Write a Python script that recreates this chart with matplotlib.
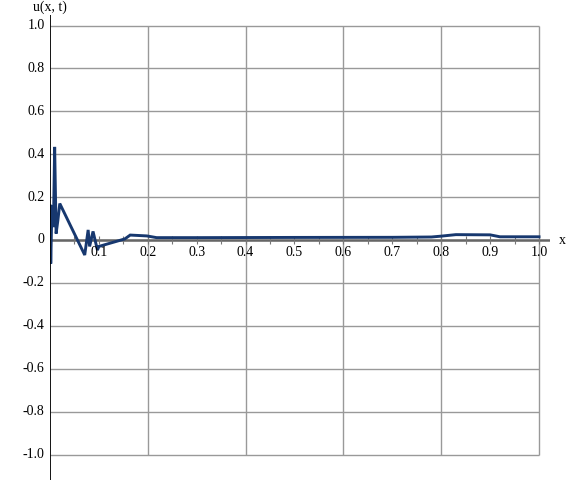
"""
Solution profile u(x, t) on [0, 1].
"""
import matplotlib.pyplot as plt
import numpy as np

x_vals = [0.0, 0.0015, 0.004, 0.007, 0.0095, 0.0125, 0.016, 0.02, 0.071, 0.078,
          0.081, 0.088, 0.097, 0.10, 0.153, 0.164, 0.198, 0.218, 0.3, 0.5,
          0.7, 0.78, 0.80, 0.83, 0.90, 0.92, 1.0]
u_vals = [0.16, -0.11, 0.16, 0.06, 0.434, 0.03, 0.09, 0.17, -0.07, 0.047,
          -0.03, 0.04, -0.047, -0.03, 0.005, 0.023, 0.019, 0.011, 0.011, 0.012,
          0.0125, 0.014, 0.018, 0.025, 0.024, 0.015, 0.015]

x_tick_labels = ["0.1", "0.2", "0.3", "0.4", "0.5", "0.6", "0.7", "0.8", "0.9", "1.0"]
y_tick_labels = ["1.0", "0.8", "0.6", "0.4", "0.2", "0", "-0.2", "-0.4", "-0.6", "-0.8", "-1.0"]

plt.rcParams['font.family'] = ['Liberation Serif', 'DejaVu Serif']

W, H = 570, 480
fig = plt.figure(figsize=(W / 100, H / 100), dpi=100)
# axes spans pixel 50..550 horizontally and 15..480 vertically
ax = fig.add_axes([50 / W, 0, 500 / W, 465 / H])
ax.set_xlim(0, 500 / 489)
ax.set_ylim(-240 / 214.5, 225 / 214.5)
ax.axis('off')

grid_col = "#999999"
x_grid = np.arange(0.2, 1.01, 0.2)
y_grid = np.arange(-1.0, 1.01, 0.2)
ax.vlines(x_grid, -1.0, 1.0, color=grid_col, lw=1.0, zorder=1)
ax.hlines(y_grid, 0, 1.0, color=grid_col, lw=1.0, zorder=1)

# x axis with small ticks every 0.05
ax.hlines(0, 0, 500 / 489, color="#666666", lw=1.8, zorder=2)
minor = np.arange(0.05, 1.001, 0.05)
ax.vlines(minor, -0.02, 0.02, color="#777777", lw=0.8, zorder=2)

# y axis
ax.axvline(0, color="black", lw=1.3, zorder=4)

ax.plot(x_vals, u_vals, color="#17386f", lw=2.1, zorder=3,
        solid_joinstyle='miter')

for xv, lab in zip(np.arange(0.1, 1.01, 0.1), x_tick_labels):
    ax.text(xv, -0.058, lab, ha="center", va="center", fontsize=10)
for yv, lab in zip(np.arange(1.0, -1.01, -0.2), y_tick_labels):
    ax.text(-0.011, yv, lab, ha="right", va="center", fontsize=10)

fig.text(50 / W, 1 - 7 / H, "u(x, t)", ha="center", va="center", fontsize=10)
fig.text(562 / W, 1 - 240 / H, "x", ha="center", va="center", fontsize=10)

fig.savefig("out.png", dpi=100)
